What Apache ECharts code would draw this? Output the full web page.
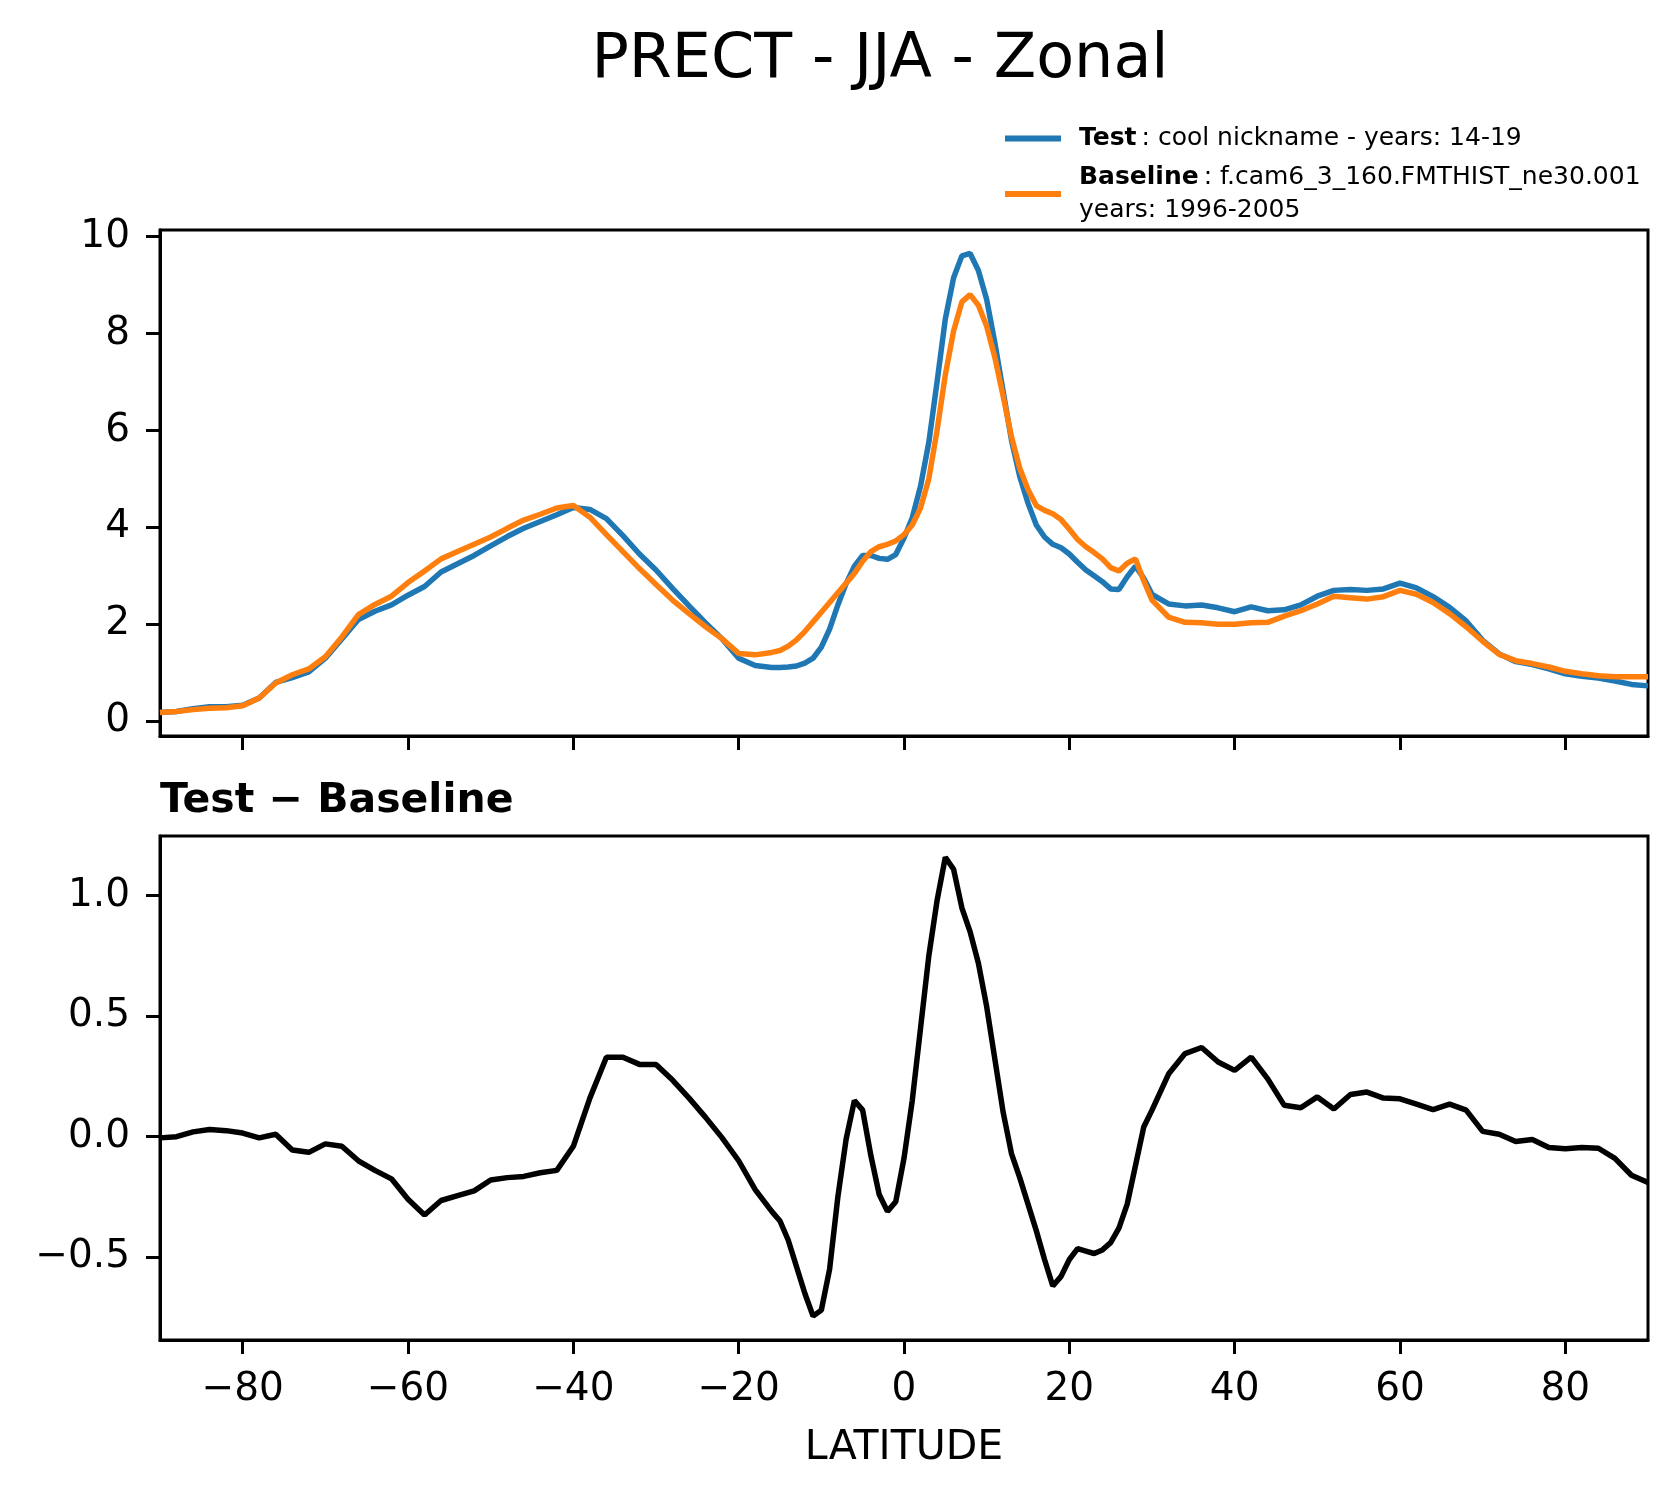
<!DOCTYPE html>
<html>
<head>
<meta charset="utf-8">
<script src="https://cdn.jsdelivr.net/npm/echarts@6/dist/echarts.min.js"></script>
<style>
html,body{margin:0;padding:0;background:#fff;}
#chart{width:1678px;height:1496px;}
</style>
</head>
<body>
<div id="chart"></div>
<script>
// Latitudes (degrees)
const latitudes = [
  -90,-88,-86,-84,-82,-80,-78,-76,-74,-72,-70,-68,-66,-64,-62,-60,-58,-56,-54,-52,
  -50,-48,-46,-44,-42,-40,-38,-36,-34,-32,-30,-28,-26,-24,-22,-20,-18,-16,
  -15,-14,-13,-12,-11,-10,-9,-8,-7,-6,-5,-4,-3,-2,-1,0,1,2,3,4,5,6,7,8,9,10,
  11,12,13,14,15,16,17,18,19,20,21,22,23,24,25,26,27,28,29,30,
  32,34,36,38,40,42,44,46,48,50,52,54,56,58,60,62,64,66,68,70,72,74,76,78,80,82,84,86,88,90
];
// Test: cool nickname - years: 14-19
const testValues = [
  0.18,0.20,0.26,0.30,0.30,0.33,0.48,0.80,0.90,1.02,1.30,1.70,2.10,2.27,2.40,2.60,2.78,3.08,3.25,3.42,
  3.62,3.81,3.98,4.12,4.26,4.41,4.37,4.18,3.83,3.45,3.12,2.74,2.38,2.03,1.70,1.30,1.15,1.11,
  1.11,1.12,1.14,1.20,1.30,1.53,1.90,2.40,2.84,3.20,3.42,3.42,3.36,3.34,3.44,3.78,4.20,4.85,5.75,7.00,8.30,9.15,9.60,9.65,9.30,8.70,
  7.80,6.80,5.80,5.05,4.50,4.05,3.80,3.65,3.58,3.45,3.28,3.12,3.00,2.88,2.73,2.72,2.98,3.20,2.95,2.62,
  2.42,2.38,2.40,2.34,2.26,2.36,2.28,2.30,2.40,2.58,2.70,2.72,2.70,2.73,2.85,2.75,2.57,2.35,2.07,1.67,1.39,1.23,1.17,1.08,0.98,0.93,0.89,0.83,0.76,0.73
];
// Baseline: f.cam6_3_160.FMTHIST_ne30.001 years: 1996-2005
const baselineValues = [
  0.18,0.20,0.24,0.27,0.28,0.32,0.48,0.79,0.96,1.08,1.33,1.74,2.20,2.41,2.58,2.86,3.10,3.35,3.50,3.65,
  3.80,3.98,4.15,4.27,4.40,4.45,4.21,3.85,3.50,3.15,2.82,2.50,2.22,1.95,1.70,1.40,1.37,1.42,
  1.46,1.55,1.68,1.85,2.05,2.25,2.45,2.65,2.85,3.05,3.30,3.50,3.60,3.65,3.72,3.85,4.05,4.40,5.00,6.00,7.15,8.05,8.65,8.80,8.58,8.15,
  7.50,6.70,5.87,5.22,4.78,4.45,4.35,4.28,4.16,3.96,3.75,3.60,3.48,3.35,3.17,3.10,3.26,3.35,2.90,2.50,
  2.15,2.04,2.03,2.00,2.00,2.03,2.04,2.17,2.28,2.42,2.58,2.55,2.52,2.57,2.70,2.62,2.45,2.22,1.95,1.65,1.38,1.25,1.19,1.12,1.03,0.98,0.94,0.92,0.92,0.92
];
// Test - Baseline
const diffValues = [
  -0.005,0.0,0.02,0.03,0.025,0.015,-0.005,0.01,-0.055,-0.065,-0.03,-0.04,-0.10,-0.14,-0.175,-0.26,-0.325,-0.265,-0.245,-0.225,
  -0.18,-0.17,-0.165,-0.15,-0.14,-0.04,0.16,0.33,0.33,0.30,0.30,0.235,0.16,0.08,-0.005,-0.10,-0.22,-0.31,
  -0.35,-0.43,-0.54,-0.65,-0.745,-0.72,-0.55,-0.25,-0.01,0.15,0.11,-0.08,-0.24,-0.31,-0.27,-0.09,0.15,0.45,0.75,0.98,1.16,1.11,0.95,0.85,0.72,0.54,
  0.32,0.10,-0.07,-0.17,-0.28,-0.39,-0.51,-0.62,-0.58,-0.51,-0.465,-0.475,-0.485,-0.47,-0.44,-0.38,-0.28,-0.12,0.04,0.11,
  0.26,0.345,0.37,0.31,0.275,0.33,0.24,0.13,0.12,0.165,0.115,0.175,0.185,0.16,0.157,0.135,0.112,0.135,0.11,0.022,0.01,-0.02,-0.012,-0.045,-0.05,-0.045,-0.048,-0.09,-0.16,-0.19
];
const xTicks = [-80,-60,-40,-20,0,20,40,60,80];
const yTicksTop = [0,2,4,6,8,10];
const yTicksBottom = [-0.5,0,0.5,1.0];

const FONT = 'DejaVu Sans';
const minusFmt = s => String(s).replace('-', '\u2212');

const chart = echarts.init(document.getElementById('chart'), null, {renderer: 'canvas'});

const axisLineStyle = {show: true, onZero: false, lineStyle: {color: '#000', width: 3}};
const tickStyle = (vals) => ({show: true, inside: false, length: 14, customValues: vals, lineStyle: {color: '#000', width: 3}});

const option = {
  backgroundColor: '#fff',
  animation: false,
  graphic: [
    {type: 'text', x: 880, y: 61, style: {text: 'PRECT - JJA - Zonal', font: '62px "DejaVu Sans"', fill: '#000', align: 'center', verticalAlign: 'middle'}},
    {type: 'text', x: 160, y: 801, style: {text: 'Test \u2212 Baseline', font: 'bold 41px "DejaVu Sans"', fill: '#000', align: 'left', verticalAlign: 'middle'}}
  ],
  legend: {
    orient: 'vertical',
    left: 1005,
    top: 126,
    padding: 0,
    itemGap: 14,
    itemWidth: 56,
    itemHeight: 6,
    icon: 'rect',
    data: ['Test', 'Baseline'],
    formatter: function (name) {
      if (name === 'Test') return '{b|Test}{n|\u2009: cool nickname - years: 14-19}';
      return '{b|Baseline}{n|\u2009: f.cam6_3_160.FMTHIST_ne30.001}\n{n|years: 1996-2005}';
    },
    textStyle: {
      padding: [0, 0, 0, 13],
      rich: {
        b: {fontFamily: FONT, fontWeight: 'bold', fontSize: 25, lineHeight: 33, color: '#000'},
        n: {fontFamily: FONT, fontSize: 25, lineHeight: 33, color: '#000'}
      }
    }
  },
  grid: [
    {left: 160, top: 230, width: 1488, height: 506, show: true, borderColor: '#000', borderWidth: 3, containLabel: false},
    {left: 160, top: 836, width: 1488, height: 504, show: true, borderColor: '#000', borderWidth: 3, containLabel: false}
  ],
  xAxis: [
    {gridIndex: 0, type: 'value', min: -90, max: 90,
      axisLine: axisLineStyle, axisTick: tickStyle(xTicks),
      axisLabel: {show: false, customValues: xTicks}, splitLine: {show: false}},
    {gridIndex: 1, type: 'value', min: -90, max: 90,
      axisLine: axisLineStyle, axisTick: tickStyle(xTicks),
      axisLabel: {show: true, customValues: xTicks, margin: 30, fontFamily: FONT, fontSize: 39, color: '#000', formatter: v => minusFmt(v)},
      splitLine: {show: false},
      name: 'LATITUDE', nameLocation: 'middle', nameGap: 88,
      nameTextStyle: {fontFamily: FONT, fontSize: 41, color: '#000'}}
  ],
  yAxis: [
    {gridIndex: 0, type: 'value', min: -0.304, max: 10.134,
      axisLine: axisLineStyle, axisTick: tickStyle(yTicksTop),
      axisLabel: {show: true, customValues: yTicksTop, margin: 30, fontFamily: FONT, fontSize: 39, color: '#000', formatter: v => minusFmt(v)},
      splitLine: {show: false}},
    {gridIndex: 1, type: 'value', min: -0.844, max: 1.248,
      axisLine: axisLineStyle, axisTick: tickStyle(yTicksBottom),
      axisLabel: {show: true, customValues: yTicksBottom, margin: 30, fontFamily: FONT, fontSize: 39, color: '#000', formatter: v => minusFmt(Number(v).toFixed(1))},
      splitLine: {show: false}}
  ],
  series: [
    {name: 'Test', type: 'line', xAxisIndex: 0, yAxisIndex: 0, showSymbol: false, symbol: 'none',
      lineStyle: {color: '#1f77b4', width: 5.5}, itemStyle: {color: '#1f77b4'},
      data: latitudes.map((x, i) => [x, testValues[i]])},
    {name: 'Baseline', type: 'line', xAxisIndex: 0, yAxisIndex: 0, showSymbol: false, symbol: 'none',
      lineStyle: {color: '#ff7f0e', width: 5.5}, itemStyle: {color: '#ff7f0e'},
      data: latitudes.map((x, i) => [x, baselineValues[i]])},
    {name: 'Test - Baseline', type: 'line', xAxisIndex: 1, yAxisIndex: 1, showSymbol: false, symbol: 'none',
      lineStyle: {color: '#000', width: 5.5}, itemStyle: {color: '#000'},
      data: latitudes.map((x, i) => [x, diffValues[i]])}
  ]
};
chart.setOption(option);
</script>
</body>
</html>
